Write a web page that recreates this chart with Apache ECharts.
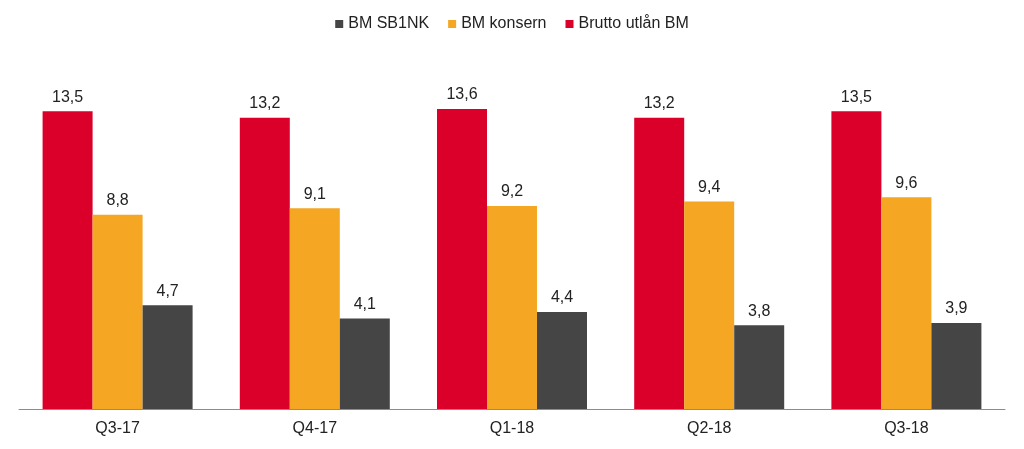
<!DOCTYPE html>
<html><head><meta charset="utf-8">
<script src="https://cdn.jsdelivr.net/npm/echarts@6/dist/echarts.min.js"></script>
<style>html,body{margin:0;padding:0;background:#fff}#c{width:1024px;height:449px}</style>
</head><body><div id="c"></div>
<script>
const categories = ['Q3-17','Q4-17','Q1-18','Q2-18','Q3-18'];
const bruttoUtlan = [13.5, 13.2, 13.6, 13.2, 13.5];
const bmKonsern = [8.8, 9.1, 9.2, 9.4, 9.6];
const bmSB1NK = [4.7, 4.1, 4.4, 3.8, 3.9];
const legendOrder = ['BM SB1NK','BM konsern','Brutto utlån BM'];

const font = 'Liberation Sans, Arial, sans-serif';
const lbl = {show:true, position:'top', distance:6, fontFamily:font, fontSize:16, color:'#222',
  formatter: p => p.value.toFixed(1).replace('.', ',')};
const chart = echarts.init(document.getElementById('c'));
chart.setOption({
  animation:false,
  legend:{data:legendOrder, top:11, left:'center', icon:'rect', itemWidth:8, itemHeight:8, itemGap:19,
    textStyle:{fontFamily:font, fontSize:16, color:'#222'}},
  grid:{left:19, right:19, top:56, bottom:40, containLabel:false},
  xAxis:{type:'category', data:categories, axisTick:{show:false},
    axisLine:{lineStyle:{color:'#8c8c8c', width:1}},
    axisLabel:{fontFamily:font, fontSize:16, color:'#222', margin:12}},
  yAxis:{type:'value', min:0, max:16, show:false, splitLine:{show:false}},
  series:[
    {name:'Brutto utlån BM', type:'bar', data:bruttoUtlan, barWidth:50, barGap:'0%', itemStyle:{color:'#DA0029'}, label:lbl},
    {name:'BM konsern', type:'bar', data:bmKonsern, barWidth:50, barGap:'0%', itemStyle:{color:'#F5A623'}, label:lbl},
    {name:'BM SB1NK', type:'bar', data:bmSB1NK, barWidth:50, barGap:'0%', itemStyle:{color:'#454545'}, label:lbl}
  ]
});
</script></body></html>
